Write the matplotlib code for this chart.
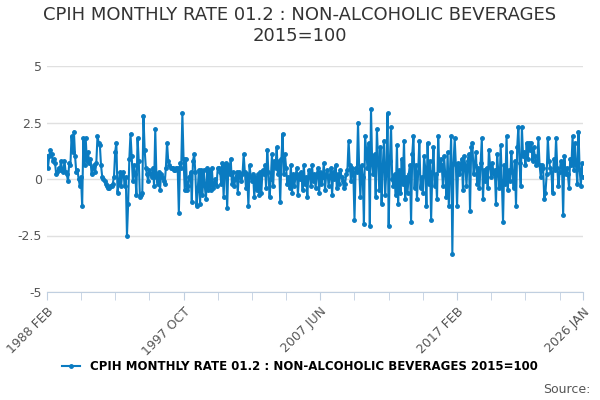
import numpy as np
import matplotlib.pyplot as plt

# month labels Feb 1988 .. Jan 2026
months = ['JAN', 'FEB', 'MAR', 'APR', 'MAY', 'JUN', 'JUL', 'AUG', 'SEP', 'OCT', 'NOV', 'DEC']
labels = [f'{y} {months[m]}' for y in range(1988, 2027) for m in range(12)][1:457]

# monthly rates (approximate)
rates = [
    1.0, 0.5, 1.0, 1.3, 1.1, 0.8, 0.9, 0.7, 0.2, 0.3, 0.5, 0.4,
    0.8, 0.4, 0.3, 0.8, 0.3, 0.2, -0.1, 0.7, 0.6, 1.9, 1.2, 2.1,
    1.0, 0.3, 0.4, 0.0, -0.3, 0.1, -1.2, 1.8, 0.6, 1.8, 0.8, 1.2,
    0.7, 0.9, 0.2, 0.5, 0.6, 0.3, 0.7, 1.9, 1.6, 1.5, 0.6, 0.1,
    0.0, -0.1, -0.2, -0.3, -0.4, -0.4, -0.3, -0.3, -0.2, 0.1, 1.2, 1.6,
    -0.6, -0.2, 0.3, -0.3, 0.2, 0.3, -0.3, 0.1, -2.5, -1.1, 0.9, 2.0,
    1.0, -0.1, 0.6, 0.2, -0.7, 1.8, 0.8, -0.8, -0.7, -0.6, 2.8, 1.3,
    0.5, 0.2, -0.1, 0.4, 0.2, 0.1, 0.5, -0.3, 2.2, 0.1, -0.2, 0.3,
    -0.5, 0.2, 0.1, -0.1, -0.2, 0.5, 1.6, 0.8, 0.6, 0.5, 0.5, 0.5,
    0.4, 0.4, 0.5, 0.5, -1.5, 0.7, 0.5, 2.9, 0.9, -0.5, 0.9, -0.5,
    -0.3, 0.1, 0.3, -1.0, 0.8, 1.1, 0.3, -1.2, -0.5, 0.4, -1.1, 0.4,
    -0.7, 0.4, -0.3, -0.9, 0.5, -0.5, 0.4, -0.5, 0.5, -0.4, -0.2, 0.0,
    -0.3, 0.5, 0.5, 0.3, -0.2, 0.7, -0.8, 0.6, 0.7, -1.3, 0.6, 0.2,
    0.9, -0.2, 0.3, -0.3, 0.0, 0.3, -0.6, 0.3, 0.1, -0.1, 0.2, 1.1,
    0.3, -0.4, 0.2, -1.2, 0.6, 0.1, -0.1, 0.2, -0.8, 0.1, -0.5, 0.2,
    -0.7, 0.3, -0.6, 0.4, 0.2, 0.6, -0.4, 1.3, 0.3, -0.8, 0.0, 1.1,
    -0.3, 0.8, 0.5, 1.4, 0.2, 0.8, -1.0, 0.9, 2.0, 0.2, 1.1, 0.5,
    -0.2, 0.1, -0.4, 0.6, -0.6, 0.2, -0.3, 0.1, 0.5, -0.7, 0.2, 0.0,
    0.3, -0.5, 0.6, -0.2, 0.1, -0.8, 0.4, 0.2, -0.3, 0.6, -0.1, 0.2,
    -0.4, 0.2, 0.5, -0.6, 0.3, -0.2, 0.1, 0.7, -0.5, 0.2, 0.4, -0.3,
    0.1, 0.5, -0.7, 0.3, 0.0, 0.6, -0.4, 0.2, -0.2, 0.4, 0.1, -0.1,
    -0.4, -0.2, 0.2, 0.4, 1.7, 0.6, -0.1, 0.5, 0.3, -1.8, 0.5, 0.3,
    2.5, 0.4, -0.8, 0.6, 0.1, -2.0, 1.9, 1.2, 0.5, 1.6, -2.1, 3.1,
    0.7, 0.2, 1.1, -0.8, 2.2, 0.8, -0.5, 1.4, -1.1, 0.6, 1.7, -0.7,
    0.3, 2.9, -2.1, 0.8, 2.3, 0.0, -0.3, 0.2, -0.7, 1.5, -1.1, 0.4,
    -0.6, 0.9, -0.2, 1.7, -0.9, 0.1, -0.6, 0.2, 0.6, -1.9, 1.1, 1.9,
    -0.4, 0.6, -0.9, 0.3, 1.7, -0.4, 0.1, -0.6, 1.0, 0.5, -1.2, 1.6,
    -0.2, 0.8, -1.8, 0.3, 1.4, -0.3, 0.2, -0.9, 1.9, 0.4, 0.9, 0.6,
    -0.3, 1.0, 0.2, -0.8, 1.2, -1.2, 0.4, 1.9, -3.3, 0.7, 1.8, 0.6,
    -1.2, 0.7, 0.2, 0.5, 0.9, -0.5, 1.0, 0.6, -0.3,
    0.8, 1.1, -1.4, 1.4, 1.6, 0.2, 0.6, 1.2, -0.2, 0.5, -0.4, 0.7,
    1.8, -0.9, 0.4, -0.1, 0.5, -0.4, 1.3, 0.6, 0.1, 0.7, 0.2, 0.4,
    -1.1, 1.1, 0.3, -0.4, 1.5, -0.1, -1.9, 0.6, -0.2, 1.9, -0.5, 0.4,
    -0.1, 1.2, 0.3, -0.4, 0.8, -1.2, 1.4, 2.3, 0.7, -0.3, 2.3, 1.0,
    1.2, 0.6, 1.6, 0.9, 1.6, 1.3, 1.6, 0.8, 1.4, 1.0, 0.6, 0.7,
    1.8, 0.6, 0.1, 0.6, 0.5, -0.9, -0.6, 0.2, 1.8, 0.8, 0.5, 0.3,
    -0.6, 0.9, 0.4, 1.8, 0.5, -0.3, 0.3, 0.8, 0.6, -1.6, 1.0, 0.2,
    0.5, 0.2, -0.4, 0.9, 0.6, 1.9, 0.4, 1.6, 0.6, -0.2, 2.1, 0.4,
    -0.3, 0.7, 0.1, 0.0, 0.9, 0.2, -0.4, 0.6, 0.8, 0.3, 0.1, -0.4,
    0.3, 0.2, -0.4, -0.4, 0.4,
]
rates = rates[:len(labels)]

fig, ax = plt.subplots(figsize=(6, 4), dpi=100)
fig.subplots_adjust(left=0.078, right=0.972, top=0.835, bottom=0.27)

x = np.arange(len(rates))
ax.plot(x, rates, color='#0a7bc1', lw=1.5, marker='o', ms=2.5,
        label='CPIH MONTHLY RATE 01.2 : NON-ALCOHOLIC BEVERAGES 2015=100')

ax.set_ylim(-5, 5)
ax.set_yticks([-5, -2.5, 0, 2.5, 5])
ax.set_yticklabels(['-5', '-2.5', '0', '2.5', '5'])
ax.set_xlim(0, 455)
ax.set_xticks(np.arange(0, 456, 29), minor=True)
lab_pos = [0, 116, 232, 348, 455]
ax.set_xticks(lab_pos)
ax.set_xticklabels([labels[i] for i in lab_pos])
plt.setp(ax.get_xticklabels(), rotation=45, ha='right', rotation_mode='anchor',
         color='#555555', fontsize=9)
ax.tick_params(axis='x', which='both', length=6, color='#c0cfe0')
ax.tick_params(axis='y', length=0, labelcolor='#555555', labelsize=9)
ax.grid(axis='y', color='#e0e0e0', lw=1)
for s in ['top', 'right', 'left']:
    ax.spines[s].set_visible(False)
ax.spines['bottom'].set_color('#c0cfe0')

fig.suptitle('CPIH MONTHLY RATE 01.2 : NON-ALCOHOLIC BEVERAGES\n2015=100',
             fontsize=13, color='#333333', y=0.985)
fig.legend(loc='lower center', bbox_to_anchor=(0.5, 0.04), frameon=False,
           handlelength=1.5, prop={'weight': 'bold', 'size': 8.5})
fig.text(0.985, 0.01, 'Source:', ha='right', va='bottom', fontsize=9, color='#555555')

plt.savefig('out.png')
